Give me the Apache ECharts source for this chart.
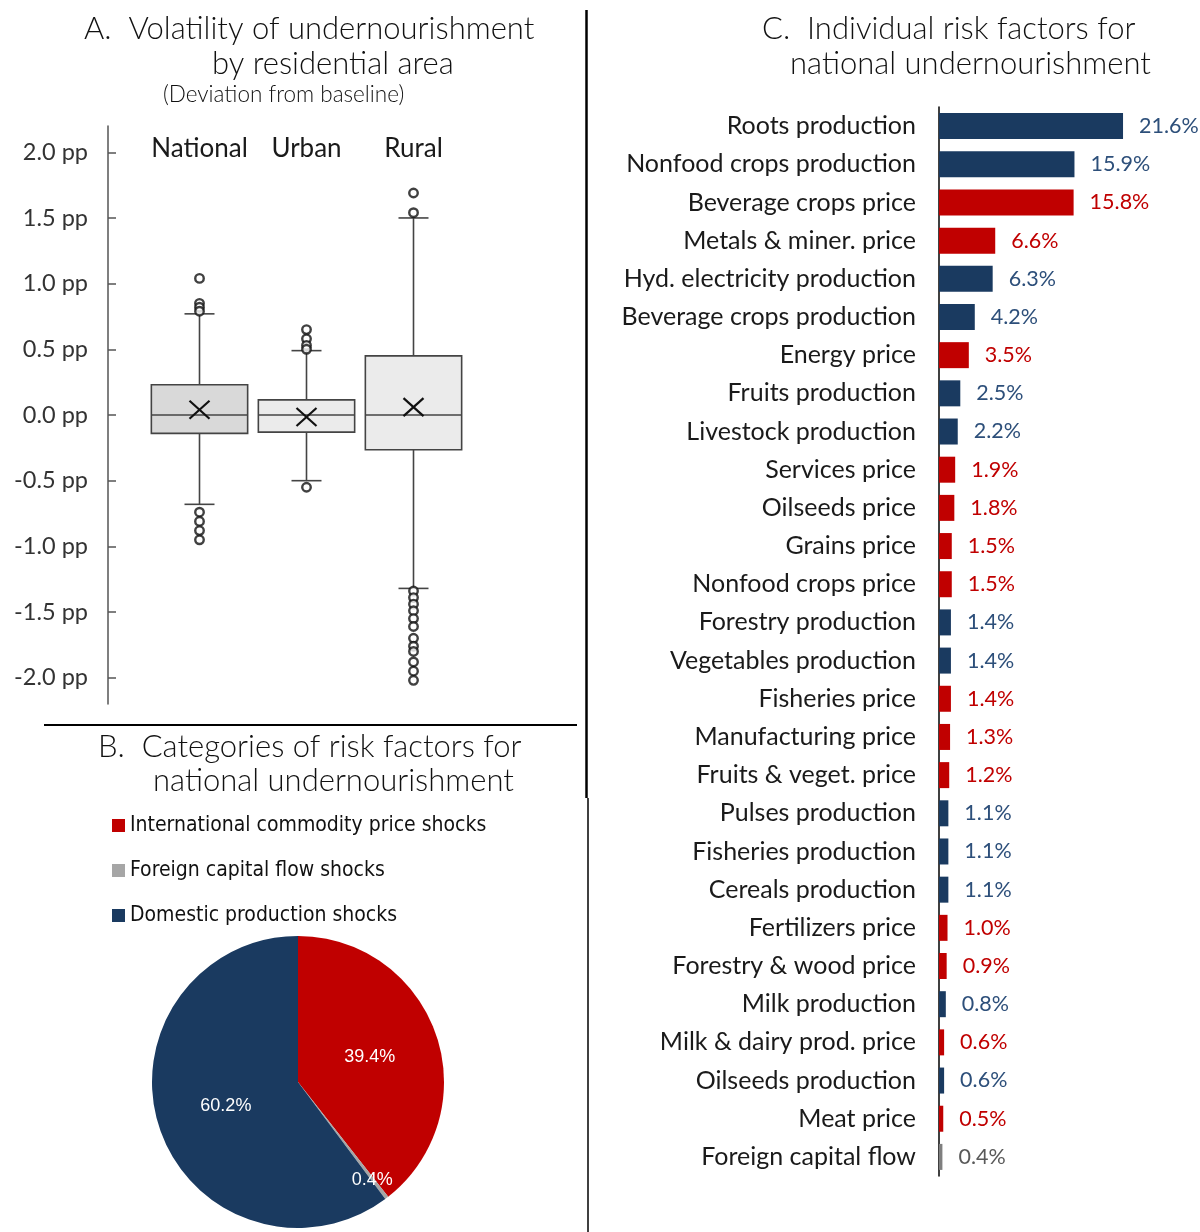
<!DOCTYPE html>
<html>
<head>
<meta charset="utf-8">
<title>Undernourishment risk factors</title>
<script src="https://cdn.jsdelivr.net/npm/echarts@6/dist/echarts.min.js"></script>
<style>
  html, body { margin: 0; padding: 0; background: #ffffff; }
  #chart { width: 1200px; height: 1232px; }
</style>
</head>
<body>
<div id="chart"></div>
<script>
// ---- Panel A: box plot of deviation from baseline (pp) ----
const areas = ['National', 'Urban', 'Rural'];
const whiskerLow = [-0.68, -0.50, -1.32];
const quartile1 = [-0.14, -0.13, -0.265];
const medians = [0.0, 0.0, 0.0];
const quartile3 = [0.23, 0.115, 0.45];
const whiskerHigh = [0.77, 0.49, 1.50];
const means = [0.04, -0.015, 0.06];
const outliersNational = [1.04, 0.85, 0.82, 0.79, -0.74, -0.81, -0.88, -0.95];
const outliersUrban = [0.65, 0.58, 0.53, 0.50, -0.55];
const outliersRural = [1.69, 1.54, -1.34, -1.39, -1.44, -1.49, -1.55, -1.61, -1.70, -1.76, -1.80, -1.88, -1.95, -2.02];
const ppTicks = [-2.0, -1.5, -1.0, -0.5, 0.0, 0.5, 1.0, 1.5, 2.0];

// ---- Panel B: categories of risk factors (share, %) ----
const shockGroups = ['International commodity price shocks', 'Foreign capital flow shocks', 'Domestic production shocks'];
const shockShares = [39.4, 0.4, 60.2];

// ---- Panel C: individual risk factors (share, %) ----
const factors = [
  'Roots production', 'Nonfood crops production', 'Beverage crops price', 'Metals & miner. price',
  'Hyd. electricity production', 'Beverage crops production', 'Energy price', 'Fruits production',
  'Livestock production', 'Services price', 'Oilseeds price', 'Grains price', 'Nonfood crops price',
  'Forestry production', 'Vegetables production', 'Fisheries price', 'Manufacturing price',
  'Fruits & veget. price', 'Pulses production', 'Fisheries production', 'Cereals production',
  'Fertilizers price', 'Forestry & wood price', 'Milk production', 'Milk & dairy prod. price',
  'Oilseeds production', 'Meat price', 'Foreign capital flow'
];
const factorShares = [21.6, 15.9, 15.8, 6.6, 6.3, 4.2, 3.5, 2.5, 2.2, 1.9, 1.8, 1.5, 1.5, 1.4, 1.4, 1.4, 1.3, 1.2, 1.1, 1.1, 1.1, 1.0, 0.9, 0.8, 0.6, 0.6, 0.5, 0.4];
// 0 = international price shock, 1 = foreign capital flow, 2 = domestic production
const factorGroup = [2, 2, 0, 0, 2, 2, 0, 2, 2, 0, 0, 0, 0, 2, 2, 0, 0, 0, 2, 2, 2, 0, 0, 2, 0, 2, 0, 1];

const NAVY = '#1a3a60';
const RED = '#c00000';
const GREY = '#a6a6a6';
const groupColors = [RED, GREY, NAVY];
const groupLabelColors = [RED, '#595959', '#2d4f7a'];
const titleFont = 'Lato, "Noto Sans", sans-serif';
const narrowFont = '"Liberation Sans Narrow", "DejaVu Sans Condensed", "Liberation Sans", sans-serif';

const boxData = areas.map((a, i) => [i, whiskerLow[i], quartile1[i], medians[i], quartile3[i], whiskerHigh[i], means[i]]);
const outlierData = [];
[outliersNational, outliersUrban, outliersRural].forEach((list, i) => {
  list.forEach(v => outlierData.push([i, v]));
});
const boxFills = ['#d9d9d9', '#ebebeb', '#ebebeb'];
const boxStroke = '#444444';

function renderBox(params, api) {
  const i = api.value(0);
  const lo = api.coord([i, api.value(1)]);
  const q1 = api.coord([i, api.value(2)]);
  const md = api.coord([i, api.value(3)]);
  const q3 = api.coord([i, api.value(4)]);
  const hi = api.coord([i, api.value(5)]);
  const mn = api.coord([i, api.value(6)]);
  const band = api.size([1, 0])[0];
  const hw = band * 0.45;
  const cap = 15;
  const x = md[0];
  const ln = { stroke: boxStroke, lineWidth: 1.6 };
  const cross = { stroke: '#111111', lineWidth: 2.2 };
  return {
    type: 'group',
    children: [
      { type: 'line', shape: { x1: x, y1: hi[1], x2: x, y2: q3[1] }, style: ln },
      { type: 'line', shape: { x1: x, y1: q1[1], x2: x, y2: lo[1] }, style: ln },
      { type: 'line', shape: { x1: x - cap, y1: hi[1], x2: x + cap, y2: hi[1] }, style: ln },
      { type: 'line', shape: { x1: x - cap, y1: lo[1], x2: x + cap, y2: lo[1] }, style: ln },
      { type: 'rect', shape: { x: x - hw, y: q3[1], width: hw * 2, height: q1[1] - q3[1] },
        style: { fill: boxFills[i], stroke: boxStroke, lineWidth: 1.6 } },
      { type: 'line', shape: { x1: x - hw, y1: md[1], x2: x + hw, y2: md[1] }, style: ln },
      { type: 'line', shape: { x1: mn[0] - 10, y1: mn[1] - 9, x2: mn[0] + 10, y2: mn[1] + 9 }, style: cross },
      { type: 'line', shape: { x1: mn[0] - 10, y1: mn[1] + 9, x2: mn[0] + 10, y2: mn[1] - 9 }, style: cross }
    ]
  };
}

const chart = echarts.init(document.getElementById('chart'), null, { renderer: 'canvas' });

const titleStyle = { font: '300 31px ' + titleFont, fill: '#111111' };
const option = {
  backgroundColor: '#ffffff',
  animation: false,
  graphic: [
    // panel titles
    { type: 'text', left: 84, top: 13, style: Object.assign({ text: 'A.  Volatility of undernourishment' }, titleStyle) },
    { type: 'text', left: 212, top: 48, style: Object.assign({ text: 'by residential area' }, titleStyle) },
    { type: 'text', left: 163, top: 83, style: { text: '(Deviation from baseline)', font: '300 22.5px ' + titleFont, fill: '#111111' } },
    { type: 'text', left: 98, top: 731, style: Object.assign({ text: 'B.  Categories of risk factors for' }, titleStyle) },
    { type: 'text', left: 153, top: 765, style: Object.assign({ text: 'national undernourishment' }, titleStyle) },
    { type: 'text', left: 762, top: 13, style: Object.assign({ text: 'C.  Individual risk factors for' }, titleStyle) },
    { type: 'text', left: 790, top: 48, style: Object.assign({ text: 'national undernourishment' }, titleStyle) },
    // panel dividers
    { type: 'line', shape: { x1: 586.5, y1: 10, x2: 586.5, y2: 798 }, style: { stroke: '#000', lineWidth: 2.5 } },
    { type: 'line', shape: { x1: 588, y1: 798, x2: 588, y2: 1232 }, style: { stroke: '#000', lineWidth: 1.5 } },
    { type: 'line', shape: { x1: 44, y1: 725, x2: 577, y2: 725 }, style: { stroke: '#000', lineWidth: 2 } }
  ],
  legend: {
    data: shockGroups,
    orient: 'vertical',
    left: 112,
    top: 815,
    padding: 0,
    icon: 'rect',
    itemWidth: 13,
    itemHeight: 13,
    itemGap: 24,
    selectedMode: false,
    textStyle: { fontFamily: narrowFont, fontSize: 21, color: '#111' }
  },
  grid: [
    { left: 146, top: 126, width: 321, height: 578 },
    { left: 939, top: 107, width: 213, height: 1069 }
  ],
  xAxis: [
    {
      gridIndex: 0, type: 'category', data: areas, position: 'top',
      axisLine: { show: false }, axisTick: { show: false },
      axisLabel: { inside: true, interval: 0, hideOverlap: false, margin: 10, fontFamily: titleFont, fontSize: 26, color: '#1a1a1a' }
    },
    {
      gridIndex: 1, type: 'value', min: 0, max: 25,
      show: false
    }
  ],
  yAxis: [
    {
      gridIndex: 0, type: 'value', min: -2.2, max: 2.2, offset: 38,
      splitLine: { show: false },
      axisLine: { show: true, lineStyle: { color: '#555', width: 1.5 } },
      axisTick: { show: true, inside: true, length: 8, customValues: ppTicks, lineStyle: { color: '#555', width: 1.5 } },
      axisLabel: {
        customValues: ppTicks, margin: 20, fontFamily: titleFont, fontSize: 23.5, color: '#333',
        formatter: v => v.toFixed(1) + ' pp'
      }
    },
    {
      gridIndex: 1, type: 'category', data: factors, inverse: true,
      axisLine: { show: true, lineStyle: { color: '#000', width: 1.5 } },
      axisTick: { show: false },
      axisLabel: { interval: 0, margin: 23, fontFamily: titleFont, fontSize: 25, color: '#1a1a1a' }
    }
  ],
  series: [
    {
      type: 'custom', xAxisIndex: 0, yAxisIndex: 0, z: 2,
      renderItem: renderBox,
      encode: { x: 0, y: [1, 2, 3, 4, 5, 6] },
      data: boxData
    },
    {
      type: 'scatter', xAxisIndex: 0, yAxisIndex: 0, z: 5,
      symbol: 'circle', symbolSize: 8.5,
      itemStyle: { color: '#ffffff', borderColor: '#111111', borderWidth: 2.4 },
      data: outlierData
    },
    {
      type: 'pie',
      center: [298, 1082],
      radius: 146,
      startAngle: 90,
      clockwise: true,
      avoidLabelOverlap: false,
      itemStyle: { borderWidth: 0 },
      label: {
        show: true, position: 'inside', color: '#ffffff',
        fontFamily: '"Liberation Sans", Arial, sans-serif', fontSize: 18,
        formatter: p => p.value.toFixed(1) + '%'
      },
      labelLayout: p => (p.dataIndex === 1 ? { dx: 28, dy: 38 } : {}),
      emphasis: { disabled: true },
      data: shockGroups.map((n, i) => ({ name: n, value: shockShares[i], itemStyle: { color: groupColors[i] } }))
    },
    {
      type: 'bar', xAxisIndex: 1, yAxisIndex: 1,
      barWidth: 26,
      data: factorShares.map((v, i) => ({
        value: v,
        itemStyle: { color: factorGroup[i] === 1 ? '#7f7f7f' : groupColors[factorGroup[i]] },
        label: { color: groupLabelColors[factorGroup[i]] }
      })),
      label: {
        show: true, position: 'right', distance: 16,
        fontFamily: titleFont, fontSize: 21.5,
        formatter: p => p.value.toFixed(1) + '%'
      }
    }
  ]
};

chart.setOption(option);
</script>
</body>
</html>
